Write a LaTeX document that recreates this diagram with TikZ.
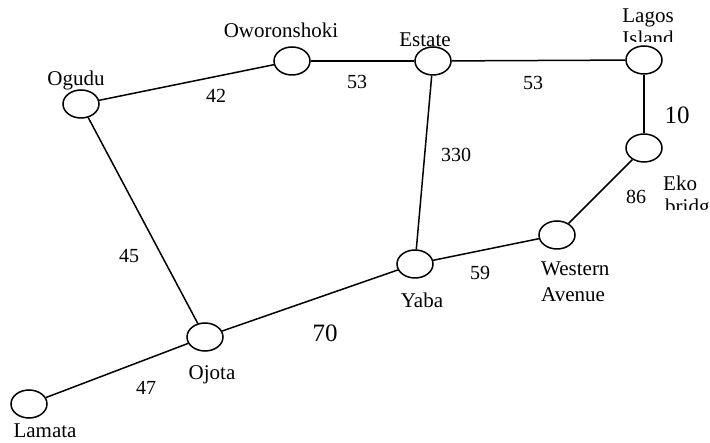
\documentclass[tikz,border=0pt]{standalone}
\usepackage{fontspec}
\setmainfont{Liberation Serif}
\usetikzlibrary{shapes.geometric}
\tikzset{
    station/.style={draw, ellipse, line width=1.5pt, minimum width=36pt, minimum height=28pt, inner sep=0pt},
    place/.style={anchor=base, inner sep=0pt, font=\fontsize{21}{23}\selectfont},
    weight/.style={anchor=base, inner sep=0pt, font=\fontsize{20}{22}\selectfont},
    bigweight/.style={anchor=base, inner sep=0pt, font=\fontsize{25}{28}\selectfont},
    road/.style={line width=1.5pt}
}
\begin{document}
\begin{tikzpicture}[x=1pt,y=-1pt]
        \useasboundingbox (0,0) rectangle (710,443);
        \clip (0,0) rectangle (710,443);

        % stations
        \node[station] (ogudu) at (81,104) {};
        \node[station] (oworonshoki) at (292,61) {};
        \node[station] (estate) at (433,61) {};
        \node[station] (lagos) at (644,60) {};
        \node[station] (eko) at (644,148) {};
        \node[station] (western) at (557,235) {};
        \node[station] (yaba) at (415,264) {};
        \node[station] (ojota) at (205,337) {};
        \node[station] (lamata) at (29,404) {};

        % roads
        \draw[road] (ogudu) -- (oworonshoki);
        \draw[road] (oworonshoki) -- (estate);
        \draw[road] (estate) -- (lagos);
        \draw[road] (lagos) -- (eko);
        \draw[road] (eko) -- (western);
        \draw[road] (western) -- (yaba);
        \draw[road] (yaba) -- (estate);
        \draw[road] (yaba) -- (ojota);
        \draw[road] (ojota) -- (ogudu);
        \draw[road] (ojota) -- (lamata);

        % names
        \node[place] (ogudutxt) at (76,86) {Ogudu};
        \node[place] (oworonshokitxt) at (281,38) {Oworonshoki};
        \node[place] (estatetxt) at (425,47) {Estate};
        \node[place] (lagostxt) at (648,23) {Lagos};
        \begin{scope}
            \clip (600,0) rectangle (710,42);
            \node[place] (islandtxt) at (648,46) {Island};
        \end{scope}
        \node[place, anchor=base west] (ekotxt) at (663,191) {Eko};
        \begin{scope}
            \clip (600,150) rectangle (710,210);
            \node[place, anchor=base west] (bridgetxt) at (665,214) {bridge};
        \end{scope}
        \node[place, anchor=base west] (westerntxt) at (541,276) {Western};
        \node[place, anchor=base west] (avenuetxt) at (541,302) {Avenue};
        \node[place] (yabatxt) at (422,308) {Yaba};
        \node[place] (ojotatxt) at (212,380) {Ojota};
        \node[place] (lamatatxt) at (45,438) {Lamata};

        % distances
        \node[weight] (w42) at (216,103) {42};
        \node[weight] (w53a) at (357,89) {53};
        \node[weight] (w53b) at (533,90) {53};
        \node[bigweight] (w10) at (677,124) {10};
        \node[weight] (w86) at (636,204) {86};
        \node[weight] (w330) at (456,162) {330};
        \node[weight] (w59) at (480,280) {59};
        \node[weight] (w45) at (129,263) {45};
        \node[bigweight] (w70) at (325,342) {70};
        \node[weight] (w47) at (146,395) {47};
\end{tikzpicture}
\end{document}
